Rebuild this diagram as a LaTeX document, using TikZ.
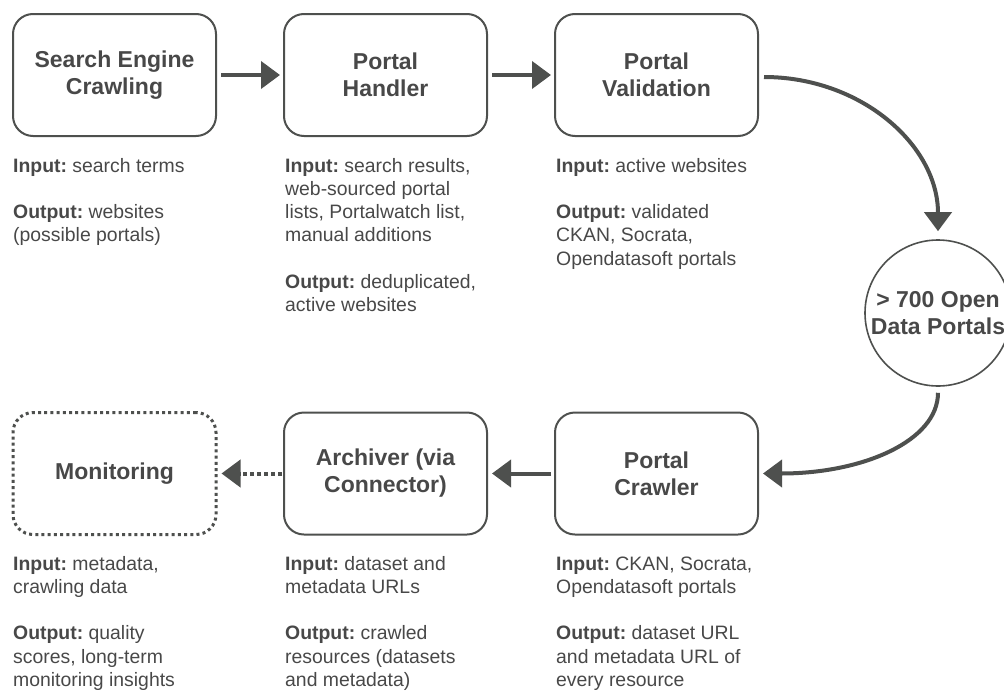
\documentclass[tikz,border=0pt]{standalone}
\usepackage{fontspec}
\setmainfont{Liberation Sans}
\usetikzlibrary{arrows.meta}
\frenchspacing
\definecolor{ink}{HTML}{4E504E}
\definecolor{txt}{HTML}{484848}
\newcommand{\titlesize}{\fontsize{23}{27}\selectfont\bfseries}
\newcommand{\bodysize}{\fontsize{19.4}{23.3}\selectfont}
\newcommand{\gap}{\\[23.3pt]}
\begin{document}
\begin{tikzpicture}[x=1pt,y=-1pt,
  stagebox/.style={draw=ink, line width=2pt, rounded corners=20pt,
    minimum width=203pt, minimum height=122pt, align=center,
    font=\titlesize, text=txt},
  monbox/.style={stagebox, line width=3pt, dash pattern=on 3pt off 3.2pt},
  hubnode/.style={draw=ink, line width=1.6pt, circle, minimum size=146pt,
    inner sep=0pt, align=center, font=\titlesize, text=txt},
  % anchored at the baseline of the last line of the block
  info/.style={anchor=base west, inner sep=0pt, align=left,
    font=\bodysize, text=txt},
  flow/.style={draw=ink, line width=4pt,
    -{Triangle[length=19pt,width=27pt]}},
  dottedflow/.style={flow, dash pattern=on 4pt off 3pt}
]
\useasboundingbox (0,0) rectangle (1004,691);

% pipeline stages
\node[stagebox] (search)  at (114.5,75)  {Search Engine\\Crawling};
\node[stagebox] (handler) at (385.5,75)  {Portal\\Handler};
\node[stagebox] (valid)   at (656.5,75)  {Portal\\Validation};
\node[hubnode]  (hub)     at (938,313)   {> 700 Open\\Data Portals};
\node[stagebox] (crawler) at (656.5,473.5) {Portal\\Crawler};
\node[stagebox] (archive) at (385.5,473.5) {Archiver (via\\Connector)};
\node[monbox]   (monitor) at (114.5,473.5) {Monitoring};

% connectors
\draw[flow, shorten <=4pt, shorten >=3pt] (search.east) -- (handler.west);
\draw[flow, shorten <=4pt, shorten >=3pt] (handler.east) -- (valid.west);
\draw[flow] ([xshift=5pt,yshift=-2pt]valid.east)
  .. controls +(97,0) and +(0,-86) .. ([yshift=8pt]hub.north);
\draw[flow] ([yshift=-6pt]hub.south)
  .. controls +(0,48) and +(100,0) .. ([xshift=4pt]crawler.east);
\draw[flow, shorten <=3pt, shorten >=4pt] (crawler.west) -- (archive.east);
\draw[dottedflow, shorten <=1pt, shorten >=4pt] (archive.west) -- (monitor.east);

% inputs and outputs of each stage
\node[info] (t1) at (13,241.9) {\textbf{Input:} search terms\gap
  \textbf{Output:} websites\\(possible portals)};
\node[info] (t2) at (285,311.8) {\textbf{Input:} search results,\\
  web-sourced portal\\lists, Portalwatch list,\\manual additions\gap
  \textbf{Output:} deduplicated,\\active websites};
\node[info] (t3) at (556,265.2) {\textbf{Input:} active websites\gap
  \textbf{Output:} validated\\CKAN, Socrata,\\Opendatasoft portals};
\node[info] (b1) at (13,686.5) {\textbf{Input:} metadata,\\crawling data\gap
  \textbf{Output:} quality\\scores, long-term\\monitoring insights};
\node[info] (b2) at (285,686.5) {\textbf{Input:} dataset and\\metadata URLs\gap
  \textbf{Output:} crawled\\resources (datasets\\and metadata)};
\node[info] (b3) at (556,686.5) {\textbf{Input:} CKAN, Socrata,\\
  Opendatasoft portals\gap
  \textbf{Output:} dataset URL\\and metadata URL of\\every resource};
\end{tikzpicture}
\end{document}
